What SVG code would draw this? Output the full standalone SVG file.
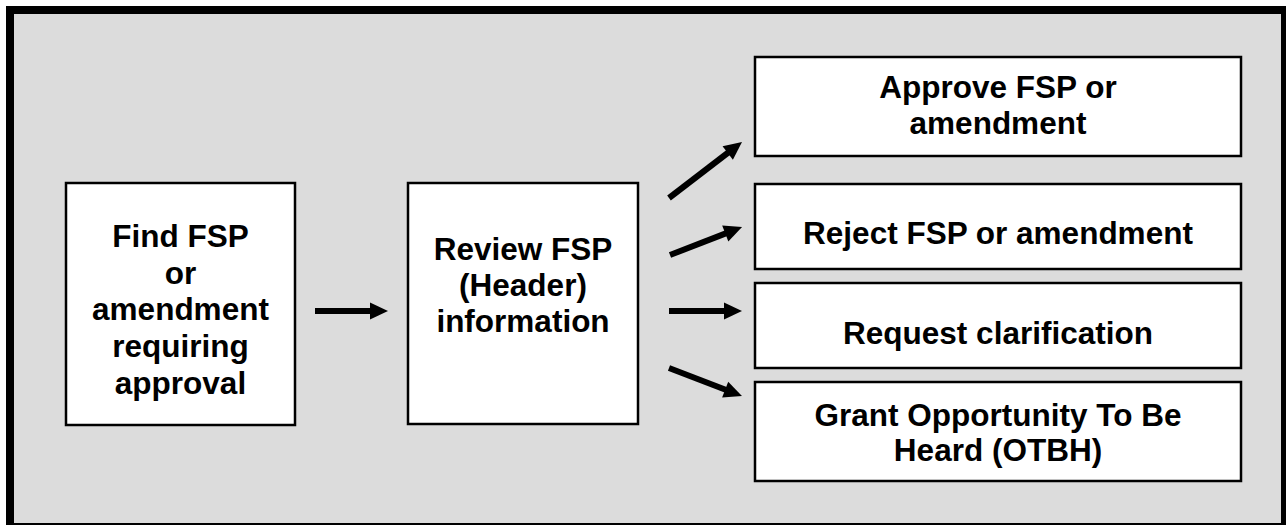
<svg xmlns="http://www.w3.org/2000/svg" width="1286" height="525" viewBox="0 0 1286 525">
<style>
.box{fill:#ffffff;stroke:#000000;stroke-width:2.5}
.t{font-family:"Liberation Sans",Arial,sans-serif;font-weight:bold;font-size:31.5px;fill:#000000;text-anchor:middle}
.c{stroke:#000000;stroke-width:6;fill:none;marker-end:url(#ah)}
</style>
<defs>
<marker id="ah" markerUnits="userSpaceOnUse" markerWidth="18" markerHeight="17" refX="4" refY="8.5" orient="auto" overflow="visible">
<path d="M0,0 L18,8.5 L0,17 Z" fill="#000000"/>
</marker>
</defs>
<rect x="0" y="0" width="1286" height="525" fill="#ffffff"/>
<rect id="frame" x="10" y="10" width="1275" height="517" fill="#dcdcdc" stroke="#000000" stroke-width="8"/>
<g id="find">
<rect class="box" x="66" y="183" width="229" height="242"/>
<text class="t" x="180.5" y="247">Find FSP</text>
<text class="t" x="180.5" y="284">or</text>
<text class="t" x="180.5" y="320">amendment</text>
<text class="t" x="180.5" y="357">requiring</text>
<text class="t" x="180.5" y="394">approval</text>
</g>
<g id="review">
<rect class="box" x="408" y="183" width="230" height="241"/>
<text class="t" x="523" y="260">Review FSP</text>
<text class="t" x="523" y="296">(Header)</text>
<text class="t" x="523" y="332">information</text>
</g>
<g id="approve">
<rect class="box" x="755" y="57" width="486" height="99"/>
<text class="t" x="998" y="98">Approve FSP or</text>
<text class="t" x="998" y="134">amendment</text>
</g>
<g id="reject">
<rect class="box" x="755" y="184" width="486" height="85"/>
<text class="t" x="998" y="244">Reject FSP or amendment</text>
</g>
<g id="request">
<rect class="box" x="755" y="283" width="486" height="85"/>
<text class="t" x="998" y="344">Request clarification</text>
</g>
<g id="grant">
<rect class="box" x="755" y="382" width="486" height="99"/>
<text class="t" x="998" y="426">Grant Opportunity To Be</text>
<text class="t" x="998" y="461">Heard (OTBH)</text>
</g>
<g id="connectors">
<line class="c" x1="315" y1="311" x2="374" y2="311"/>
<line class="c" x1="669" y1="198" x2="730.9" y2="150.5"/>
<line class="c" x1="670" y1="255" x2="729" y2="232.1"/>
<line class="c" x1="669" y1="311" x2="728" y2="311"/>
<line class="c" x1="669" y1="368" x2="728.9" y2="391"/>
</g>
</svg>
